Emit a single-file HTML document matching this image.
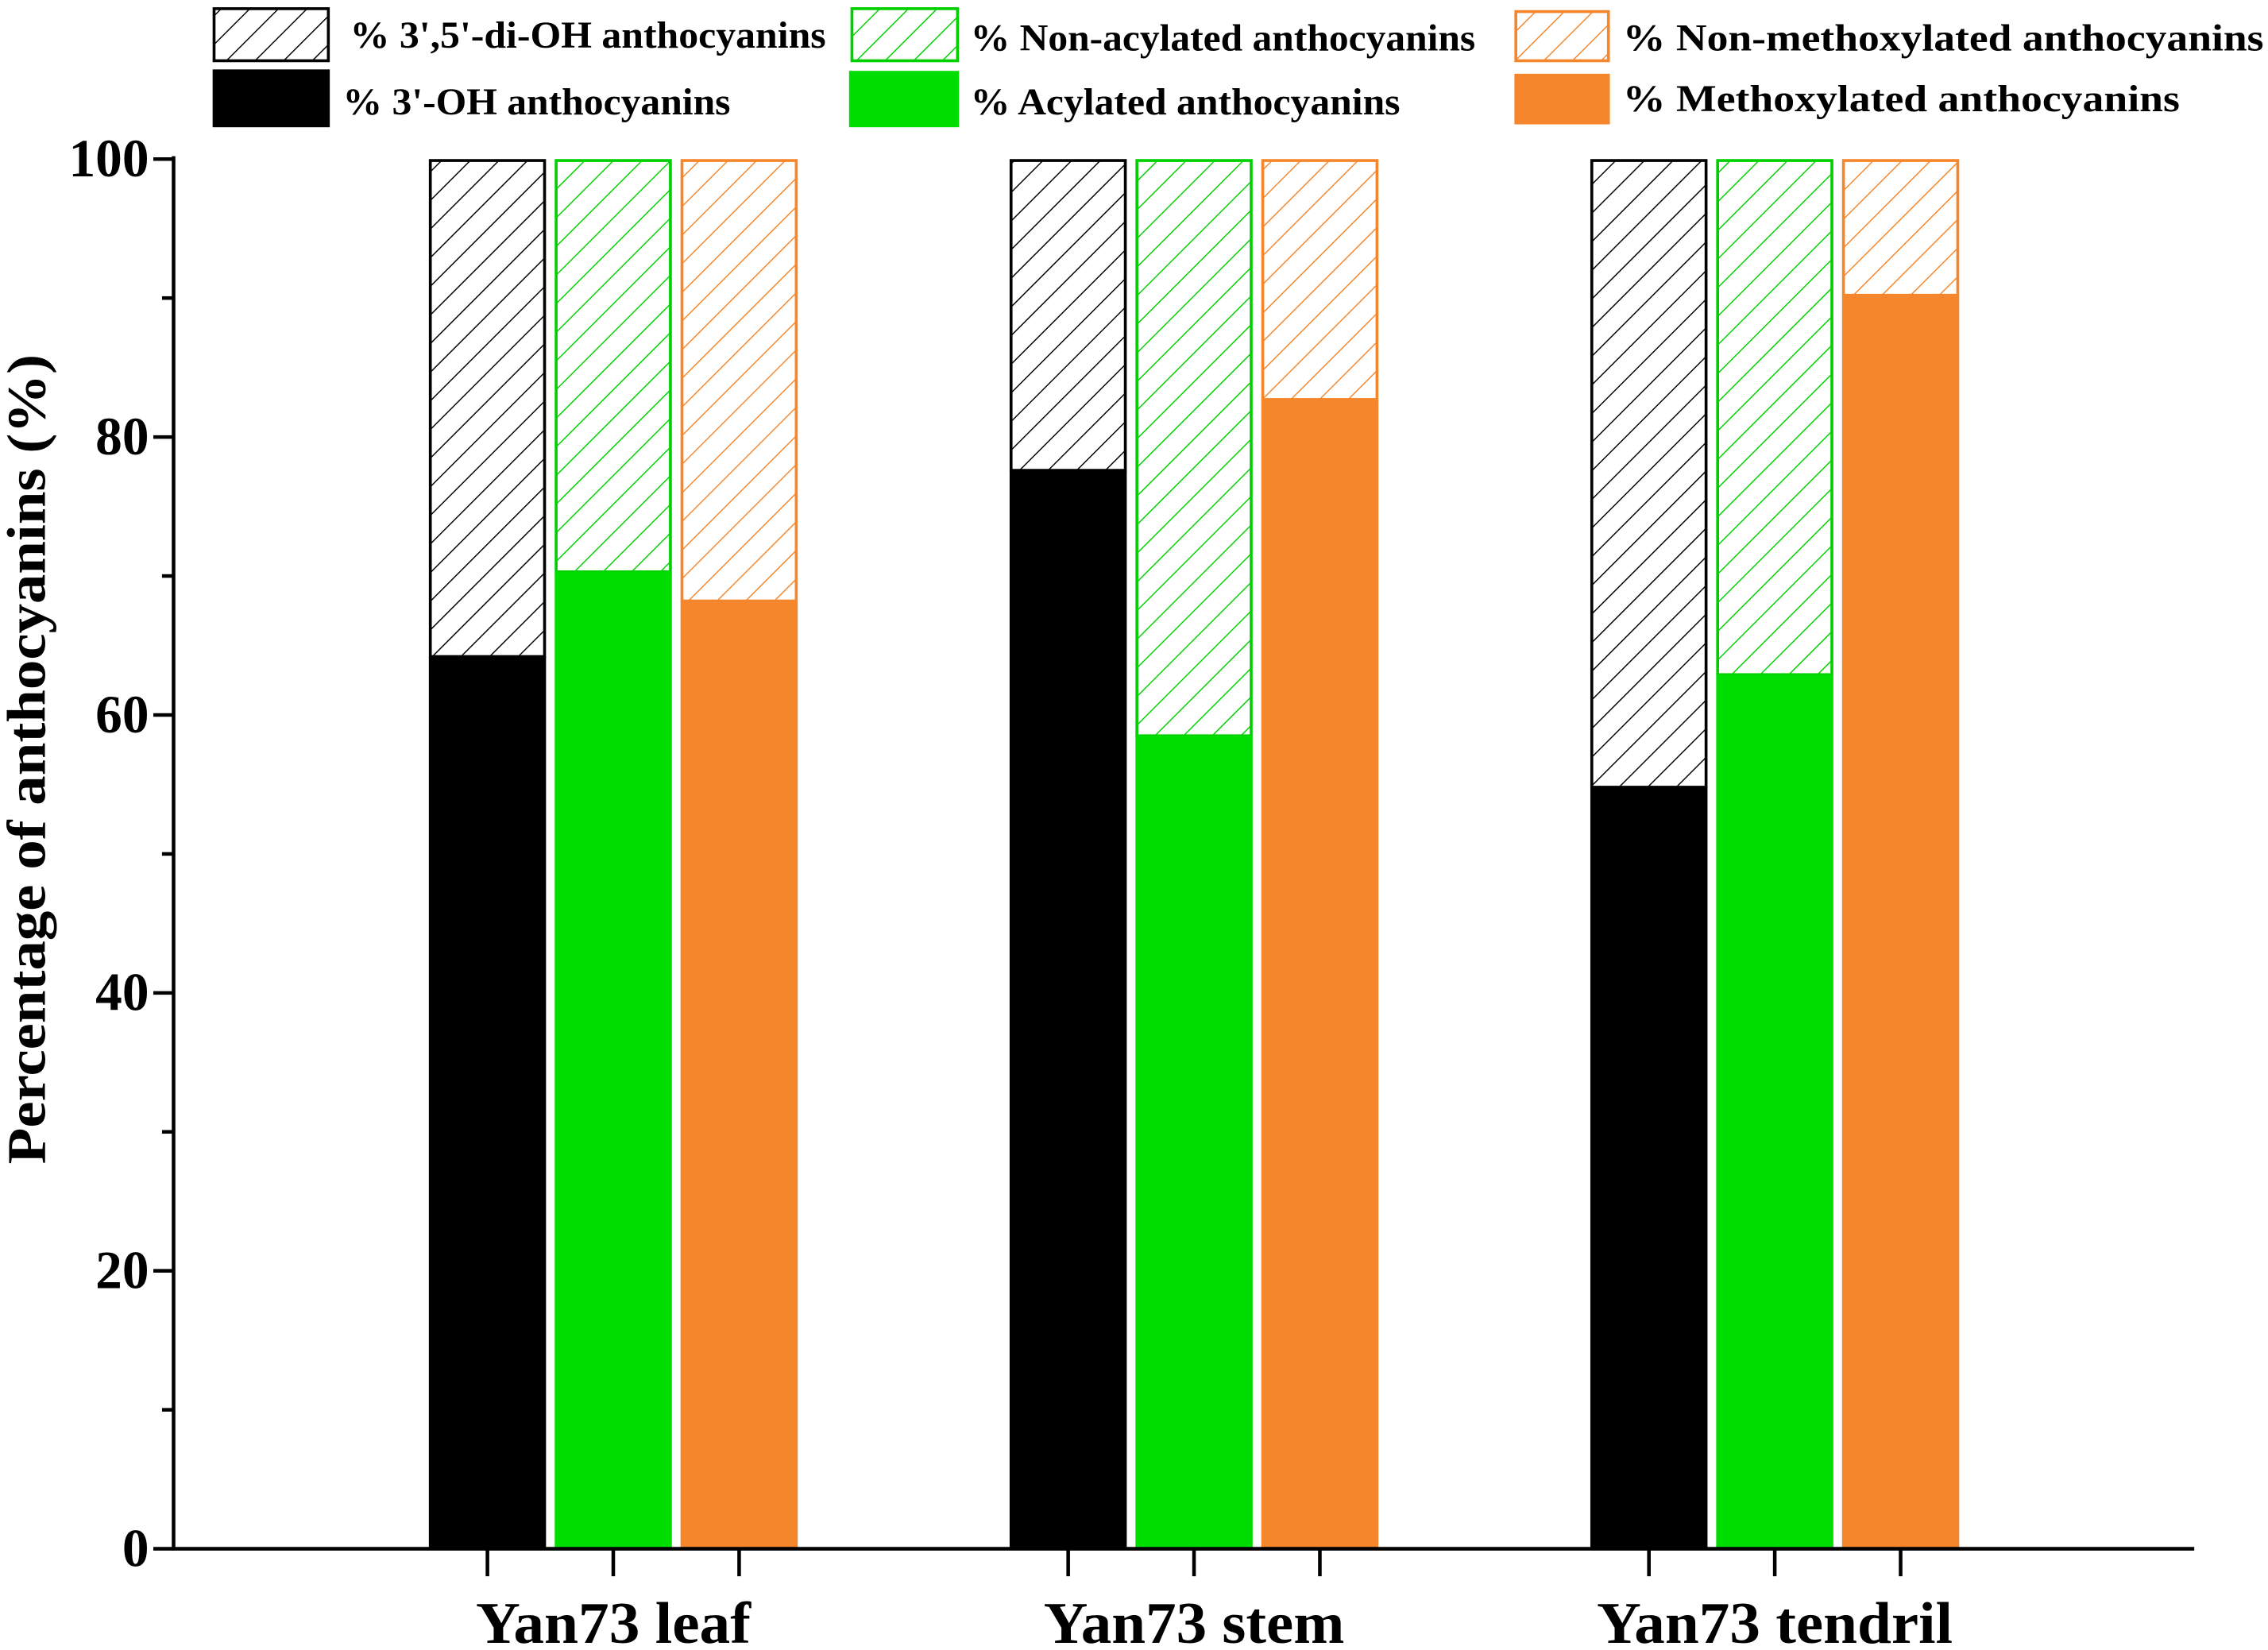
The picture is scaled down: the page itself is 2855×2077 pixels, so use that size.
<!DOCTYPE html>
<html><head><meta charset="utf-8"><style>
html,body{margin:0;padding:0;background:#fff}
svg{display:block}
text{font-family:"Liberation Serif",serif;font-weight:bold}
</style></head><body>
<svg id="chart" width="2855" height="2077" viewBox="0 0 1568 1141" preserveAspectRatio="none" xmlns="http://www.w3.org/2000/svg">
<defs>
<pattern id="hk" patternUnits="userSpaceOnUse" width="14" height="14" patternTransform="rotate(45)"><line x1="0" y1="0" x2="0" y2="14" stroke="#000" stroke-width="1.6"/></pattern>
<pattern id="hg" patternUnits="userSpaceOnUse" width="14" height="14" patternTransform="rotate(45)"><line x1="0" y1="0" x2="0" y2="14" stroke="#00d000" stroke-width="1.6"/></pattern>
<pattern id="ho" patternUnits="userSpaceOnUse" width="14" height="14" patternTransform="rotate(45)"><line x1="0" y1="0" x2="0" y2="14" stroke="#f5862b" stroke-width="1.6"/></pattern>
</defs>
<g id="legend">
<g><rect x="148" y="6" width="79" height="36" fill="url(#hk)" stroke="#000" stroke-width="2"/><text x="242" y="33" font-size="26" textLength="329" lengthAdjust="spacingAndGlyphs">% 3',5'-di-OH anthocyanins</text></g>
<g><rect x="589" y="6" width="73" height="36" fill="url(#hg)" stroke="#00d000" stroke-width="2"/><text x="671" y="35" font-size="26" textLength="349" lengthAdjust="spacingAndGlyphs">% Non-acylated anthocyanins</text></g>
<g><rect x="1048" y="8" width="64" height="34" fill="url(#ho)" stroke="#f5862b" stroke-width="2"/><text x="1122" y="35" font-size="26" textLength="443" lengthAdjust="spacingAndGlyphs">% Non-methoxylated anthocyanins</text></g>
<g><rect x="147" y="48" width="81" height="40" fill="#000"/><text x="237" y="79" font-size="26" textLength="268" lengthAdjust="spacingAndGlyphs">% 3'-OH anthocyanins</text></g>
<g><rect x="587" y="49" width="76" height="39" fill="#00dd00"/><text x="671" y="79" font-size="26" textLength="297" lengthAdjust="spacingAndGlyphs">% Acylated anthocyanins</text></g>
<g><rect x="1047" y="51" width="66" height="35" fill="#f5862b"/><text x="1122" y="77" font-size="26" textLength="385" lengthAdjust="spacingAndGlyphs">% Methoxylated anthocyanins</text></g>
</g>
<g id="bars"></g>
<g id="axes"></g>
<text transform="translate(31,525) rotate(-90)" text-anchor="middle" font-size="38" textLength="560" lengthAdjust="spacingAndGlyphs">Percentage of anthocyanins (%)</text>
</svg>
<script>
const categories = ["Yan73 leaf", "Yan73 stem", "Yan73 tendril"];
const oh3Values = [64.2, 77.6, 54.8];
const acylatedValues = [70.3, 58.5, 62.9];
const methoxylatedValues = [68.2, 82.7, 90.2];
const yTicks = [0, 20, 40, 60, 80, 100];
const NS = "http://www.w3.org/2000/svg";
const y0 = 1071, yTop = 110, xL = 120, xR = 1517;
function yScale(v){ return y0 - (y0 - yTop) * v / 100; }
const groupCenters = [424, 825, 1227];
const labelWidths = [190, 208, 246];
function groupX(i){ return groupCenters[0] + (groupCenters[2]-groupCenters[0]) * i / (categories.length-1); }
const bw = 81, gap = 87;
const series = [
 {vals: oh3Values, solid:"#000", hatch:"url(#hk)", stroke:"#000", name:"3-oh"},
 {vals: acylatedValues, solid:"#00dd00", hatch:"url(#hg)", stroke:"#00d000", name:"acylated"},
 {vals: methoxylatedValues, solid:"#f5862b", hatch:"url(#ho)", stroke:"#f5862b", name:"methoxylated"}
];
function mk(tag, attrs, parent){ const e=document.createElementNS(NS,tag); for(const k in attrs) e.setAttribute(k,attrs[k]); parent.appendChild(e); return e; }
const bars = document.getElementById("bars");
categories.forEach((c,i)=>{
  series.forEach((s,j)=>{
    const cx = groupX(i) + (j-1)*gap;
    const x = cx - bw/2;
    const v = s.vals[i];
    const h = mk("rect",{x:x+1,y:yScale(100)+1,width:bw-2,height:yScale(v)-yScale(100)-1,fill:s.hatch,stroke:s.stroke,"stroke-width":2},bars);
    
    
    const r = mk("rect",{x:x,y:yScale(v),width:bw,height:y0-yScale(v),fill:s.solid},bars);
    
    
  });
});
const axes = document.getElementById("axes");
const ya = mk("line",{x1:xL,y1:yTop-2,x2:xL,y2:y0+1,stroke:"#000","stroke-width":2.5},axes);


const xa = mk("line",{x1:xL-1,y1:y0,x2:xR,y2:y0,stroke:"#000","stroke-width":2.5},axes);


for(let v=0; v<=100; v+=10){
  const major = v%20===0;
  mk("line",{x1:xL-(major?14:8),y1:yScale(v),x2:xL,y2:yScale(v),stroke:"#000","stroke-width":2.5},axes);
}
yTicks.forEach(v=>{
  const t = mk("text",{x:103,y:yScale(v)+12,"text-anchor":"end","font-size":37},axes);
  t.textContent = v;
  
  
});
categories.forEach((c,i)=>{
  for(let j=-1;j<=1;j++){
    mk("line",{x1:groupX(i)+j*gap,y1:y0,x2:groupX(i)+j*gap,y2:y0+19,stroke:"#000","stroke-width":2.5},axes);
  }
  const t = mk("text",{x:groupX(i),y:1136,"text-anchor":"middle","font-size":41,textLength:labelWidths[i],lengthAdjust:"spacingAndGlyphs"},axes);
  t.textContent = c;
  
  
});
</script>
</body></html>
